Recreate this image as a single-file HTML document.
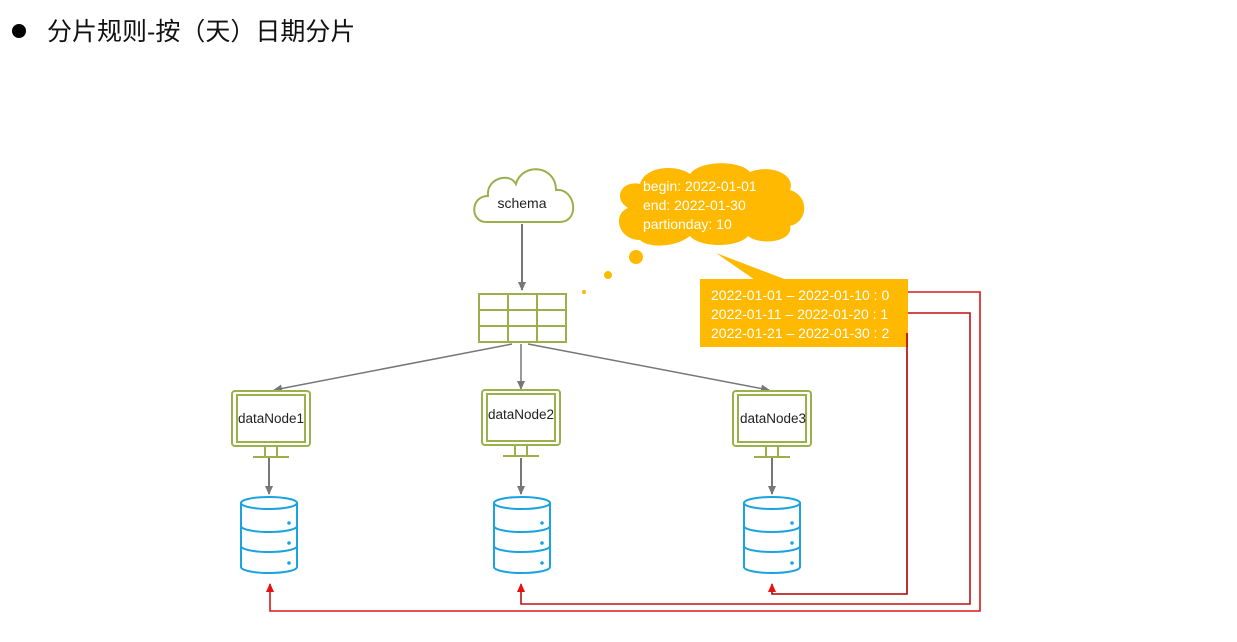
<!DOCTYPE html>
<html><head><meta charset="utf-8"><style>
html,body{margin:0;padding:0;background:#fff;width:1237px;height:642px;overflow:hidden}
text{font-family:"Liberation Sans","Noto Sans CJK SC",sans-serif}
</style></head><body>
<svg width="1237" height="642" viewBox="0 0 1237 642" xmlns="http://www.w3.org/2000/svg">
<defs>
<marker id="ag" markerWidth="10" markerHeight="10" refX="8" refY="5" orient="auto" markerUnits="userSpaceOnUse"><path d="M0,1 L9,5 L0,9 Z" fill="#777"/></marker>
<marker id="ar" markerWidth="10" markerHeight="10" refX="8" refY="5" orient="auto" markerUnits="userSpaceOnUse"><path d="M0,1 L9,5 L0,9 Z" fill="#e81010"/></marker>
<g id="mon">
<rect x="-39" y="0" width="78" height="55" rx="3" fill="#fff" stroke="#9ab04a" stroke-width="2"/>
<rect x="-34" y="4" width="68" height="47" fill="none" stroke="#9ab04a" stroke-width="2"/>
<path d="M-6,55 V66 M6,55 V66 M-18,66 H18" stroke="#9ab04a" stroke-width="2" fill="none"/>
</g>
<g id="db" fill="#fff" stroke="#1aa3e0" stroke-width="2">
<path d="M-28,6 V70 A28,6 0 0 0 28,70 V6"/>
<ellipse cx="0" cy="6" rx="28" ry="6"/>
<path d="M-28,29 A28,6 0 0 0 28,29 M-28,49 A28,6 0 0 0 28,49" fill="none"/>
<circle cx="20" cy="26" r="1.8" fill="#1aa3e0" stroke="none"/>
<circle cx="20" cy="46" r="1.8" fill="#1aa3e0" stroke="none"/>
<circle cx="20" cy="66" r="1.8" fill="#1aa3e0" stroke="none"/>
</g>
</defs>
<circle cx="19" cy="31" r="7" fill="#000"/>
<text x="47" y="40" font-size="25" fill="#111">分片规则-按（天）日期分片</text>

<path d="M486,222 C470,222 470,196 488,196 C486,178 510,172 516,184 C522,162 556,165 556,190 C576,188 580,222 560,222 Z" fill="#fff" stroke="#9ab04a" stroke-width="2"/>
<text x="522" y="208" font-size="14" text-anchor="middle" fill="#222">schema</text>
<line x1="522" y1="224" x2="522" y2="290" stroke="#777" stroke-width="2" marker-end="url(#ag)"/>
<g stroke="#9ab04a" stroke-width="2" fill="none">
<rect x="479" y="294" width="87" height="48"/>
<path d="M479,310 H566 M479,326 H566 M508,294 V342 M537,294 V342"/>
</g>
<g stroke="#777" stroke-width="1.5" fill="none">
<line x1="512" y1="344" x2="274" y2="390" marker-end="url(#ag)"/>
<line x1="521" y1="344" x2="521" y2="389" marker-end="url(#ag)"/>
<line x1="528" y1="344" x2="769" y2="390" marker-end="url(#ag)"/>
</g>
<use href="#mon" x="271" y="391"/>
<use href="#mon" x="521" y="390"/>
<use href="#mon" x="772" y="391"/>
<text x="271" y="423" font-size="13.5" text-anchor="middle" fill="#222">dataNode1</text>
<text x="521" y="419" font-size="13.5" text-anchor="middle" fill="#222">dataNode2</text>
<text x="773" y="423" font-size="13.5" text-anchor="middle" fill="#222">dataNode3</text>
<g stroke="#777" stroke-width="2">
<line x1="269" y1="458" x2="269" y2="494" marker-end="url(#ag)"/>
<line x1="521" y1="458" x2="521" y2="494" marker-end="url(#ag)"/>
<line x1="772" y1="458" x2="772" y2="494" marker-end="url(#ag)"/>
</g>
<use href="#db" x="269" y="497"/>
<use href="#db" x="522" y="497"/>
<use href="#db" x="772" y="497"/>

<path d="M640,240 C618,240 612,214 628,208 C612,198 622,180 640,184 C645,166 676,164 690,174 C700,160 740,160 750,172 C770,164 796,174 790,190 C810,196 808,222 790,226 C794,242 760,246 748,236 C738,248 700,248 690,236 C675,248 648,248 640,240 Z" fill="#ffb900"/>
<g font-size="14" fill="#fff">
<text x="643" y="191">begin: 2022-01-01</text>
<text x="643" y="210">end: 2022-01-30</text>
<text x="643" y="229">partionday: 10</text>
</g>
<circle cx="636" cy="257" r="7" fill="#ffb900"/>
<circle cx="608" cy="275" r="4" fill="#ffb900"/>
<circle cx="584" cy="292" r="2" fill="#ffb900"/>
<path d="M716,253 L787,280 L755,280 Z" fill="#ffb900"/>
<rect x="700" y="279" width="208" height="68" fill="#ffb900"/>
<g font-size="14" fill="#fff">
<text x="711" y="300">2022-01-01 – 2022-01-10 : 0</text>
<text x="711" y="319">2022-01-11 – 2022-01-20 : 1</text>
<text x="711" y="338">2022-01-21 – 2022-01-30 : 2</text>
</g>
<g fill="none" stroke-width="1.6">
<path d="M908,292 H980 V611 H270 V584" stroke="#d81818" marker-end="url(#ar)"/>
<path d="M908,313 H970 V604 H521 V584" stroke="#c01010" marker-end="url(#ar)"/>
<path d="M907,333 V594 H772 V584" stroke="#b00000" marker-end="url(#ar)"/>
</g>
</svg>
</body></html>
